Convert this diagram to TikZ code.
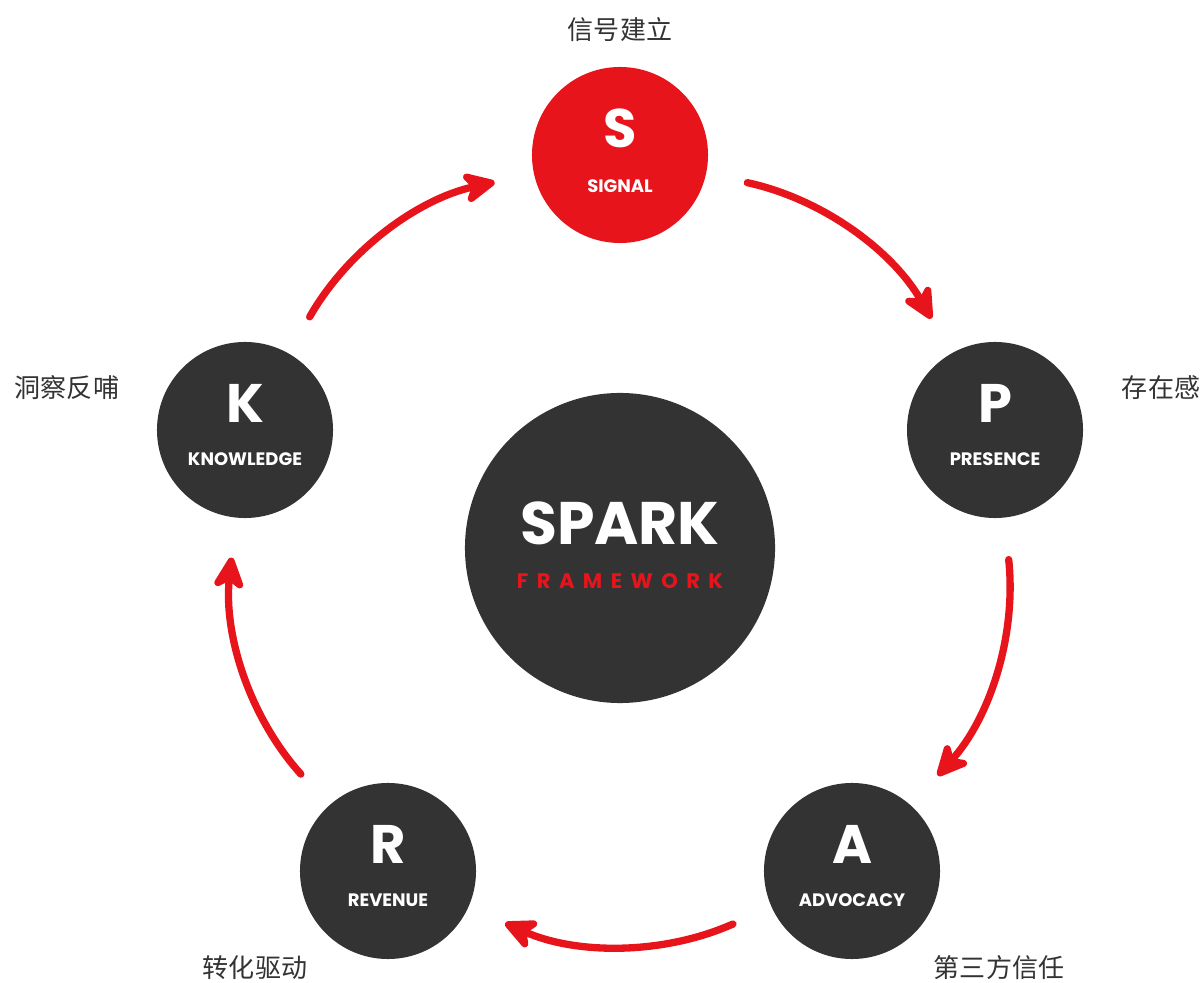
\documentclass[tikz,border=0pt]{standalone}
\usepackage{fontspec}
\setmainfont{Poppins}
\newfontfamily\cjk{Noto Sans CJK SC}
\newfontfamily\spaced[LetterSpace=40]{Poppins}
\usetikzlibrary{arrows.meta}
\definecolor{sparkred}{HTML}{E8141B}
\definecolor{coal}{HTML}{333333}

\begin{document}
\begin{tikzpicture}
    [x=0.025cm,y=-0.025cm,
     stage/.style ={circle,fill=coal,minimum size=4.4cm,inner sep=0pt},
     letter/.style={text=white,font=\bfseries\fontsize{38.6}{40}\selectfont},
     word/.style  ={text=white,font=\bfseries\fontsize{12.8}{14}\selectfont},
     tag/.style   ={text=coal,font=\cjk\fontsize{18.5}{20}\selectfont},
     flow/.style  ={sparkred,line width=5.2pt,line cap=round,
                    shorten <=1.05cm,shorten >=1cm,
                    -{Stealth[length=1cm,width=0.95cm,inset=0.3cm,round]}}]
    \useasboundingbox (0,0) rectangle (1204,983);
    % hub
    \node[circle,fill=coal,minimum size=7.75cm] (hub) at (620,548) {};
    \node[text=white,font=\bfseries\fontsize{42.7}{44}\selectfont] (hubt) at (620,523) {SPARK};
    \node[text=sparkred,font=\spaced\bfseries\fontsize{15}{17}\selectfont] (hubs) at (620,581) {FRAMEWORK};
    % stages
    \node[stage,fill=sparkred] (S) at (620,155) {};
    \node[stage] (P) at (995,430) {};
    \node[stage] (A) at (852,871) {};
    \node[stage] (R) at (388,871) {};
    \node[stage] (K) at (245,430) {};
    \node[letter] (Sl) at (620,128) {S};
    \node[word] (Sw) at (620,186) {SIGNAL};
    \node[letter] (Pl) at (995,403) {P};
    \node[word] (Pw) at (995,459) {PRESENCE};
    \node[letter] (Al) at (852,844) {A};
    \node[word] (Aw) at (852,900) {ADVOCACY};
    \node[letter] (Rl) at (388,844) {R};
    \node[word] (Rw) at (388,900) {REVENUE};
    \node[letter] (Kl) at (245,403) {K};
    \node[word] (Kw) at (245,459) {KNOWLEDGE};
    % labels
    \node[tag] (St) at (620,30) {信号建立};
    \node[tag] (Pt) at (1161,388) {存在感};
    \node[tag] (At) at (999,968) {第三方信任};
    \node[tag] (Rt) at (255,968) {转化驱动};
    \node[tag] (Kt) at (67,388) {洞察反哺};
    % cycle
    \draw[flow] (S) to [bend left=24] (P);
    \draw[flow] (P) to [bend left=24] (A);
    \draw[flow] (A) to [bend left=24] (R);
    \draw[flow] (R) to [bend left=24] (K);
    \draw[flow] (K) to [bend left=24] (S);
\end{tikzpicture}
\end{document}
